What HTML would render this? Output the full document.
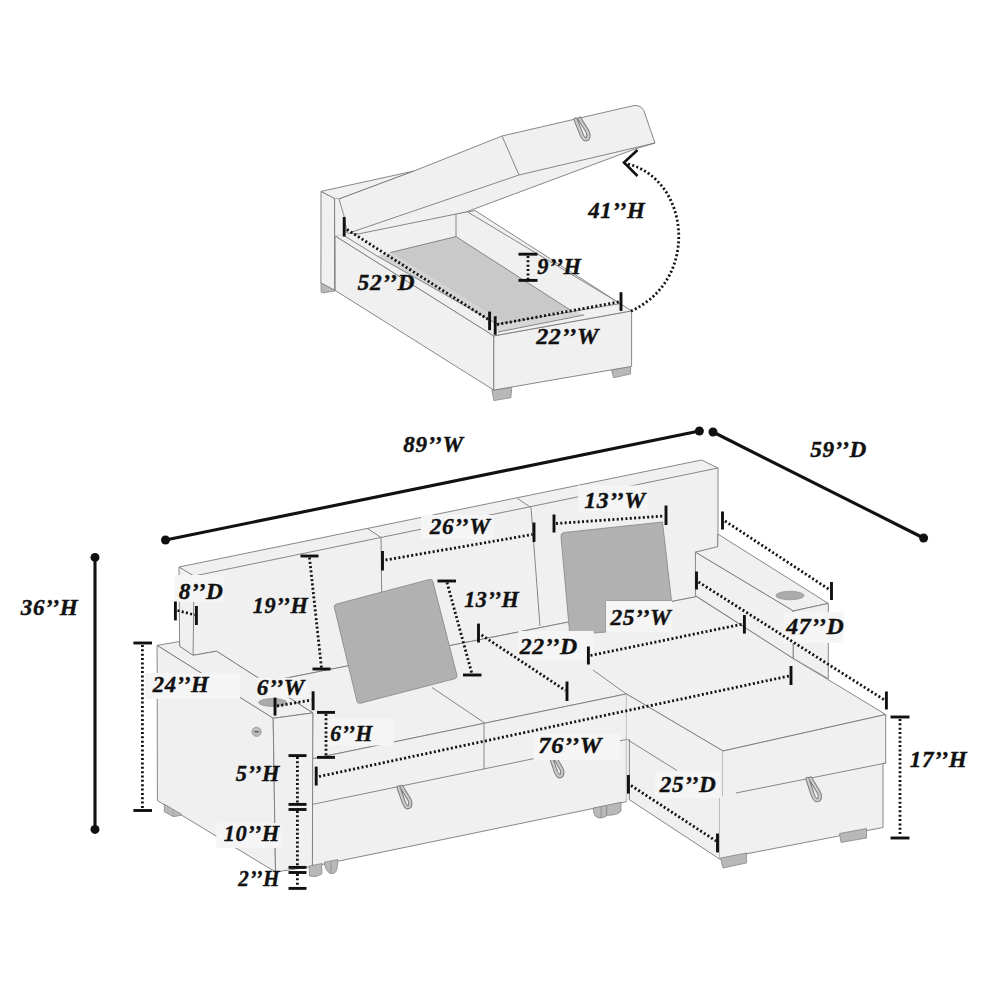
<!DOCTYPE html>
<html><head><meta charset="utf-8">
<style>
html,body{margin:0;padding:0;background:#fff;width:1000px;height:1000px;overflow:hidden}
svg{display:block}
.f{fill:#f0f0f0;stroke:none}
.e{fill:none;stroke:#7a7a7a;stroke-width:0.9;stroke-linejoin:round}
.fe{fill:#f0f0f0;stroke:#7a7a7a;stroke-width:0.9;stroke-linejoin:round}
.leg{fill:#b8b8b8;stroke:#7e7e7e;stroke-width:0.7}
.pil{fill:#b1b1b1;stroke:#858585;stroke-width:0.8}
.dim{fill:none;stroke:#111;stroke-width:2.6}
.dot{fill:none;stroke:#111;stroke-width:2.8;stroke-dasharray:2.0 2.35}
.bar{fill:none;stroke:#111;stroke-width:2.9}
.big{fill:none;stroke:#111;stroke-width:3.1;stroke-linecap:round}
.lb{fill:#f5f5f5}
text{font-family:"Liberation Serif",serif;font-weight:bold;font-style:italic;font-size:24px;letter-spacing:0.6px;fill:#111;stroke:#111;stroke-width:0.4px}
</style></head>
<body>
<svg width="1000" height="1000" viewBox="0 0 1000 1000">
<!-- ================= OTTOMAN ================= -->
<g id="ott">
  <!-- legs -->
  <polygon class="leg" points="321,282 335,289.5 335,291 323,293 321,292"/>
  <polygon class="leg" points="491.9,390 511.8,387.3 510.9,397.7 493.8,400.6"/>
  <polygon class="leg" points="611.6,370 630.6,366.4 630.6,374 613.5,377.8"/>
  <!-- base faces -->
  <polygon class="fe" points="334.8,235.7 493.8,335.9 493.8,390.1 334.8,290.2"/>
  <polygon class="fe" points="493.8,335.9 631.6,310.9 631.6,366.4 493.8,390.1"/>
  <!-- base top rim & interior -->
  <polygon class="fe" points="334.8,235.7 493.8,335.9 631.6,310.9 475.2,210.6"/>
  <polygon class="f" points="339,232.5 456,214.5 468,212.2 620.2,303.6 497,324"/>
  <!-- floor -->
  <polygon fill="#c9c9c9" points="390.4,252.5 456,236.6 570.2,310 503.6,322.4"/>
  <polygon fill="#d3d3d3" points="377,256 390.4,252.5 503.6,322.4 497,324"/>
  <polygon fill="#d6d6d6" points="497,324 575,310.5 584,315 498,332"/>
  <polyline class="e" points="498,332 584,315"/>
  <polyline class="e" points="456,214.5 456,236.6 390.4,252.5"/>
  <polyline class="e" points="456,236.6 570.2,310"/>
  <polyline class="e" points="468,212.2 620.2,303.6"/>
  <polyline class="e" points="339,232.5 377,256 497,324 620.2,303.6"/>
<!-- panel -->
  <polygon class="fe" points="321,191.4 334.6,198.4 334.8,290.2 320.9,282.9"/>
  <polygon class="fe" points="321,191.4 414,171 339,199 334.6,198.4"/>
  <polygon class="f" points="334.6,198.4 339,199 347,234 334.8,236"/>
  <polyline class="e" points="334.6,198.4 334.8,290.2"/>
  <!-- lid -->
  <path class="fe" d="M339,199 L414,171 L502,136 L634,105.5 Q641,105 643.8,110.5 L655,143 L635,149 L466,212 L358,234 L347,233 L344,216 Z"/>
  <polyline class="e" points="655,143 519,175 352,232"/>
  <polyline class="e" points="502,136 519,175"/>
  <path d="M575.6,119.5 L581.5,134.5 Q584,141 587.5,139 Q589.5,136 587.5,131.5 L579.6,118.8" fill="none" stroke="#7c7c7c" stroke-width="4.2" stroke-linecap="round"/><path d="M575.6,119.5 L581.5,134.5 Q584,141 587.5,139 Q589.5,136 587.5,131.5 L579.6,118.8" fill="none" stroke="#cbcbcb" stroke-width="2.2" stroke-linecap="round"/>
</g>

<!-- ================= SOFA ================= -->
<g id="sofa">
  <!-- back block -->
  <polygon class="fe" points="179,567 701.5,460 718,468 718,547.5 696.5,552 696.5,596.6 265.1,682.3 216.5,651.2 193.1,655.3 179.6,646.3"/>
  <polyline class="e" points="194,576 718,468"/>
  <polyline class="e" points="179,567 194,576 193.1,655.3"/>
  <polyline class="e" points="367.5,528.5 381,537.5 382.5,657"/>
  <polyline class="e" points="517.5,498.5 531,507.5 540,626"/>
  <!-- seat top (incl chaise top) -->
  <polygon class="fe" points="265.1,682.3 696.5,596.6 793.3,658.5 885.7,714.5 723,751 626.4,694 312.4,758.8 312.8,712.9"/>
  <polyline class="e" points="432,687.5 484,722.5"/>
  <polyline class="e" points="593,670 626.4,694"/>
  <!-- seat front face -->
  <polygon class="fe" points="312.4,758.8 626.4,693.9 626.4,801.6 312.4,866.5"/>
  <polyline class="e" points="312.4,804.4 626.4,739.5"/>
  <polyline class="e" points="484,722.5 484,769"/>
  <!-- chaise faces -->
  <polygon class="f" points="626.4,693.9 723,751 723,796 719.5,797 719.5,859 629.4,799.7 626.4,801.6"/>
  <polyline class="e" points="626.4,693.9 723,751 723,796"/>
  <polyline class="e" points="719.5,797 719.5,859 629.4,799.7 629.4,739"/>
  <polyline class="e" points="626.4,739 677,770.5"/>
  <polygon class="f" points="723,751 885.7,714.5 885.7,763 883,763.6 883,827.5 719.5,859 719.5,797 723,796"/>
  <polyline class="e" points="723,751 885.7,714.5 885.7,763 883,763.6 883,827.5 719.5,859"/>
  <polyline class="e" points="736,793 886,763"/>
  <!-- chaise arm -->
  <polygon class="fe" points="695.4,552.2 717.8,546.6 717.8,534 828.3,603.4 793.3,611"/>
  <polygon class="fe" points="695.4,552.2 793.3,611 793.3,658.5 695.4,595.5"/>
  <polygon class="fe" points="793.3,611 828.3,603.4 828.3,678.7 793.3,658.5"/>
  <ellipse cx="790" cy="595.5" rx="14" ry="4.3" fill="#ababab" stroke="#888" stroke-width="0.6"/>
  <!-- left arm -->
  <polygon class="fe" points="157.1,645.4 179.6,641.5 179.6,646.3 193.1,655.3 216.5,651.2 312.8,712.9 273.2,718.3"/>
  <polygon class="fe" points="157.1,645.4 273.2,718.3 275.5,872 157.4,800.5"/>
  <polygon class="fe" points="273.2,718.3 312.8,712.9 312.4,866.5 275.5,872"/>
  <ellipse cx="272.7" cy="702.5" rx="14" ry="4" fill="#ababab" stroke="#888" stroke-width="0.6"/>
  <circle cx="256.6" cy="731.8" r="4.6" fill="#bdbdbd" stroke="#888" stroke-width="0.7"/>
  <line x1="254.5" y1="731.8" x2="258.7" y2="731.8" stroke="#333" stroke-width="1"/>
  <!-- legs / casters -->
  <polygon class="leg" points="164.3,804.2 181.1,814 181.1,815.3 173.4,816.7 164.3,811.8"/><line x1="173.4" y1="809" x2="173.4" y2="816.5" stroke="#9a9a9a" stroke-width="0.6"/>
  <path class="leg" d="M309.2,866 L321.8,863.5 L321.8,874 Q316,878 309.5,876 Z"/>
  <path class="leg" d="M324.2,862.3 L337.8,859.5 Q338,871 334,873.5 L330,873.5 Q325,870 324.2,862.3 Z"/><line x1="331" y1="861" x2="331" y2="873" stroke="#7e7e7e" stroke-width="0.6"/>
  <path class="leg" d="M593.3,808 L606.6,805.3 L606.6,816 Q600,820 595,816 Q593,812 593.3,808 Z"/><line x1="601" y1="806.5" x2="601" y2="818" stroke="#7e7e7e" stroke-width="0.6"/>
  <path class="leg" d="M606.6,805.3 L621,802.3 L621,811 Q618,815.5 606.6,815.3 Z"/>
  <polygon class="leg" points="720.4,858 746.5,853 746.5,863 723,868"/>
  <polygon class="leg" points="839.5,833.5 866.5,828.5 866.5,838 841,842.5"/>
  <!-- handles -->
  <path d="M398.6,787.5 L404,803 Q406.5,809 409.5,806.5 Q411.5,803.5 409,799 L401.6,787" fill="none" stroke="#7c7c7c" stroke-width="4.2" stroke-linecap="round"/><path d="M398.6,787.5 L404,803 Q406.5,809 409.5,806.5 Q411.5,803.5 409,799 L401.6,787" fill="none" stroke="#cbcbcb" stroke-width="2.2" stroke-linecap="round"/>
  <path d="M550.6,756 L556,772 Q558.5,778 561.5,775.5 Q563.5,772.5 561,768 L553.6,755.5" fill="none" stroke="#7c7c7c" stroke-width="4.2" stroke-linecap="round"/><path d="M550.6,756 L556,772 Q558.5,778 561.5,775.5 Q563.5,772.5 561,768 L553.6,755.5" fill="none" stroke="#cbcbcb" stroke-width="2.2" stroke-linecap="round"/>
  <path d="M807.5,779 L813,795.5 Q815.5,802 819,799.5 Q821,796.5 818.5,792 L810.5,778.5" fill="none" stroke="#7c7c7c" stroke-width="4.2" stroke-linecap="round"/><path d="M807.5,779 L813,795.5 Q815.5,802 819,799.5 Q821,796.5 818.5,792 L810.5,778.5" fill="none" stroke="#cbcbcb" stroke-width="2.2" stroke-linecap="round"/>
  <!-- pillows -->
  <path class="pil" d="M336.6,604.0 L429.3,579.5 Q432.2,578.7 432.9,581.6 L456.9,675.1 Q457.6,678.0 454.7,678.8 L360.5,703.2 Q357.6,704.0 356.9,701.1 L334.4,607.7 Q333.7,604.8 336.6,604.0 Z"/>
  <path class="pil" d="M564,532.5 L662.5,522 L671.5,601 L606,601 L606,632 L594,633 L569.5,631.5 L561,537 Q560.5,533 564,532.5 Z"/>
</g>

<!-- label boxes -->
<rect class="lb" x="145" y="673" width="95" height="26"/>
<rect class="lb" x="256.8" y="677.8" width="51" height="20"/>
<rect class="lb" x="174.4" y="575" width="50" height="27"/>
<rect class="lb" x="606" y="601" width="66" height="31"/>
<rect class="lb" x="783.5" y="612" width="60" height="31"/>
<rect class="lb" x="533.6" y="734" width="86.4" height="26"/>
<rect class="lb" x="421" y="515" width="73" height="24"/>
<rect class="lb" x="578" y="485.5" width="70" height="26"/>
<rect class="lb" x="518.4" y="631" width="75.2" height="29"/>
<rect class="lb" x="655" y="772" width="65" height="26"/>
<rect class="lb" x="328" y="719" width="66" height="26.5"/>
<rect class="lb" x="216.3" y="823" width="65.5" height="25"/>

<!-- ================= DIMENSIONS ================= -->
<g id="dims">
  <!-- big lines -->
  <line class="big" x1="165.5" y1="540" x2="699.4" y2="431"/>
  <circle cx="165.5" cy="540" r="4.5" fill="#111"/><circle cx="699.4" cy="431" r="4.5" fill="#111"/>
  <line class="big" x1="713" y1="432" x2="923.6" y2="538"/>
  <circle cx="713" cy="432" r="4.5" fill="#111"/><circle cx="923.6" cy="538" r="4.5" fill="#111"/>
  <line class="big" x1="95" y1="557.4" x2="95" y2="829.4"/>
  <circle cx="95" cy="557.4" r="4.5" fill="#111"/><circle cx="95" cy="829.4" r="4.5" fill="#111"/>
  <!-- 41H arc -->
  <path class="dot" d="M628,164 C690,180 700,280 631,311"/>
  <polyline class="dim" points="637.5,150 624,162.5 637.5,176" stroke-width="2.2"/>
  <!-- 52D / 22W / 9H -->
  <line class="bar" x1="344.2" y1="217" x2="344.2" y2="236.5"/>
  <line class="dot" x1="347" y1="229.5" x2="488" y2="319.3"/>
  <line class="bar" x1="489.6" y1="311.6" x2="489.6" y2="330.2"/>
  <line class="bar" x1="495.2" y1="316.2" x2="495.2" y2="334.8"/>
  <line class="dot" x1="497" y1="324.5" x2="620" y2="301.7"/>
  <line class="bar" x1="621" y1="292.2" x2="621" y2="310.9"/>
  <line class="bar" x1="518.5" y1="254.2" x2="537.5" y2="254.2"/>
  <line class="bar" x1="518.5" y1="280.4" x2="537.5" y2="280.4"/>
  <line class="dot" x1="528" y1="256" x2="528" y2="279"/>
  <!-- 8D -->
  <line class="bar" x1="175.4" y1="601.5" x2="175.4" y2="620.4"/>
  <line class="bar" x1="196.4" y1="606" x2="196.4" y2="625"/>
  <line class="dot" x1="177.5" y1="610.5" x2="195" y2="615"/>
  <!-- 19H -->
  <line class="bar" x1="300.5" y1="556" x2="318.5" y2="556"/>
  <line class="bar" x1="312.5" y1="669" x2="330.5" y2="669"/>
  <line class="dot" x1="309.5" y1="557.5" x2="321.5" y2="668"/>
  <!-- 24H -->
  <line class="bar" x1="133.4" y1="643" x2="152" y2="643"/>
  <line class="bar" x1="133.4" y1="810.5" x2="152" y2="810.5"/>
  <line class="dot" x1="142.4" y1="645" x2="142.4" y2="809"/>
  <!-- 6W -->
  <line class="bar" x1="275" y1="697.6" x2="275" y2="715.6"/>
  <line class="bar" x1="313.1" y1="691.3" x2="313.1" y2="710.2"/>
  <line class="dot" x1="277" y1="706" x2="311.5" y2="700"/>
  <!-- 6H -->
  <line class="bar" x1="317" y1="712.4" x2="335" y2="712.4"/>
  <line class="bar" x1="317" y1="757.4" x2="335" y2="757.4"/>
  <line class="dot" x1="326" y1="714" x2="326" y2="756"/>
  <!-- 5H 10H 2H -->
  <line class="bar" x1="288.5" y1="755.6" x2="306.5" y2="755.6"/>
  <line class="bar" x1="288.5" y1="804.4" x2="306.5" y2="804.4"/>
  <line class="bar" x1="288.5" y1="809.5" x2="306.5" y2="809.5"/>
  <line class="bar" x1="288.5" y1="867.4" x2="306.5" y2="867.4"/>
  <line class="bar" x1="288.5" y1="872.5" x2="306.5" y2="872.5"/>
  <line class="bar" x1="288.5" y1="888.4" x2="306.5" y2="888.4"/>
  <line class="dot" x1="297.4" y1="757" x2="297.4" y2="803"/>
  <line class="dot" x1="297.4" y1="811" x2="297.4" y2="866"/>
  <line class="dot" x1="297.4" y1="874" x2="297.4" y2="887"/>
  <!-- 76W -->
  <line class="bar" x1="316.2" y1="766.6" x2="316.2" y2="785.5"/>
  <line class="bar" x1="791" y1="666" x2="791" y2="685"/>
  <line class="dot" x1="319" y1="776.5" x2="789" y2="676"/>
  <!-- 26W -->
  <line class="bar" x1="382.5" y1="551" x2="382.5" y2="570.5"/>
  <line class="bar" x1="534" y1="522.5" x2="534" y2="542"/>
  <line class="dot" x1="385.5" y1="560" x2="532.5" y2="534.5"/>
  <!-- 13H -->
  <line class="bar" x1="437.5" y1="581" x2="456" y2="581"/>
  <line class="bar" x1="463" y1="675" x2="481.5" y2="675"/>
  <line class="dot" x1="447" y1="582.5" x2="472" y2="674"/>
  <!-- 22D -->
  <line class="bar" x1="478.5" y1="623.6" x2="478.5" y2="642.5"/>
  <line class="bar" x1="567" y1="681.5" x2="567" y2="701"/>
  <line class="dot" x1="481.5" y1="635" x2="565.5" y2="690.5"/>
  <!-- 13W -->
  <line class="bar" x1="554" y1="514.5" x2="554" y2="532.5"/>
  <line class="bar" x1="666" y1="505.5" x2="666" y2="525"/>
  <line class="dot" x1="556" y1="523.5" x2="664" y2="516"/>
  <!-- 25W -->
  <line class="bar" x1="588.4" y1="646.5" x2="588.4" y2="664.5"/>
  <line class="bar" x1="744.4" y1="615" x2="744.4" y2="633.6"/>
  <line class="dot" x1="590.5" y1="655.5" x2="743" y2="624"/>
  <!-- 47D -->
  <line class="bar" x1="722.5" y1="511.5" x2="722.5" y2="529.5"/>
  <line class="bar" x1="831.5" y1="582" x2="831.5" y2="600"/>
  <line class="dot" x1="725" y1="521" x2="830" y2="590"/>
  <line class="bar" x1="696.5" y1="571.5" x2="696.5" y2="589.5"/>
  <line class="bar" x1="886.4" y1="691.5" x2="886.4" y2="709.5"/>
  <line class="dot" x1="698.5" y1="582" x2="884.5" y2="700"/>
  <!-- 25D -->
  <line class="bar" x1="628.4" y1="775" x2="628.4" y2="793.6"/>
  <line class="bar" x1="717.5" y1="833.5" x2="717.5" y2="852.4"/>
  <line class="dot" x1="631" y1="785.5" x2="716" y2="841"/>
  <!-- 17H -->
  <line class="bar" x1="890.5" y1="717" x2="909.5" y2="717"/>
  <line class="bar" x1="890.5" y1="838" x2="909.5" y2="838"/>
  <line class="dot" x1="900" y1="719" x2="900" y2="836"/>
</g>

<!-- ================= TEXT ================= -->
<g id="txt">
  <text x="588.3" y="217.8" textLength="57.0" lengthAdjust="spacingAndGlyphs">41’’H</text>
  <text x="537.3" y="273.9" textLength="44.1" lengthAdjust="spacingAndGlyphs">9’’H</text>
  <text x="357.6" y="289.7" textLength="57.4" lengthAdjust="spacingAndGlyphs">52’’D</text>
  <text x="536.2" y="343.9" textLength="62.8" lengthAdjust="spacingAndGlyphs">22’’W</text>
  <text x="403.3" y="452.4" textLength="60.2" lengthAdjust="spacingAndGlyphs">89’’W</text>
  <text x="810.2" y="456.9" textLength="56.7" lengthAdjust="spacingAndGlyphs">59’’D</text>
  <text x="20.8" y="614.9" textLength="57.5" lengthAdjust="spacingAndGlyphs">36’’H</text>
  <text x="178.8" y="598.9" textLength="44.7" lengthAdjust="spacingAndGlyphs">8’’D</text>
  <text x="252.8" y="612.9" textLength="55.5" lengthAdjust="spacingAndGlyphs">19’’H</text>
  <text x="429.8" y="533.9" textLength="60.7" lengthAdjust="spacingAndGlyphs">26’’W</text>
  <text x="584.3" y="507.9" textLength="61.7" lengthAdjust="spacingAndGlyphs">13’’W</text>
  <text x="464.2" y="606.9" textLength="55.1" lengthAdjust="spacingAndGlyphs">13’’H</text>
  <text x="152.8" y="691.9" textLength="56.5" lengthAdjust="spacingAndGlyphs">24’’H</text>
  <text x="256.8" y="694.9" textLength="48.3" lengthAdjust="spacingAndGlyphs">6’’W</text>
  <text x="330.3" y="740.9" textLength="42.6" lengthAdjust="spacingAndGlyphs">6’’H</text>
  <text x="519.8" y="653.9" textLength="58.1" lengthAdjust="spacingAndGlyphs">22’’D</text>
  <text x="610.4" y="624.9" textLength="61.1" lengthAdjust="spacingAndGlyphs">25’’W</text>
  <text x="786.2" y="633.9" textLength="58.2" lengthAdjust="spacingAndGlyphs">47’’D</text>
  <text x="538.3" y="752.9" textLength="63.7" lengthAdjust="spacingAndGlyphs">76’’W</text>
  <text x="235.8" y="780.9" textLength="44.1" lengthAdjust="spacingAndGlyphs">5’’H</text>
  <text x="223.8" y="840.9" textLength="56.0" lengthAdjust="spacingAndGlyphs">10’’H</text>
  <text x="238.3" y="885.9" textLength="41.6" lengthAdjust="spacingAndGlyphs">2’’H</text>
  <text x="909.8" y="766.9" textLength="57.5" lengthAdjust="spacingAndGlyphs">17’’H</text>
  <text x="659.8" y="791.9" textLength="56.6" lengthAdjust="spacingAndGlyphs">25’’D</text>
</g>
</svg>
</body></html>
